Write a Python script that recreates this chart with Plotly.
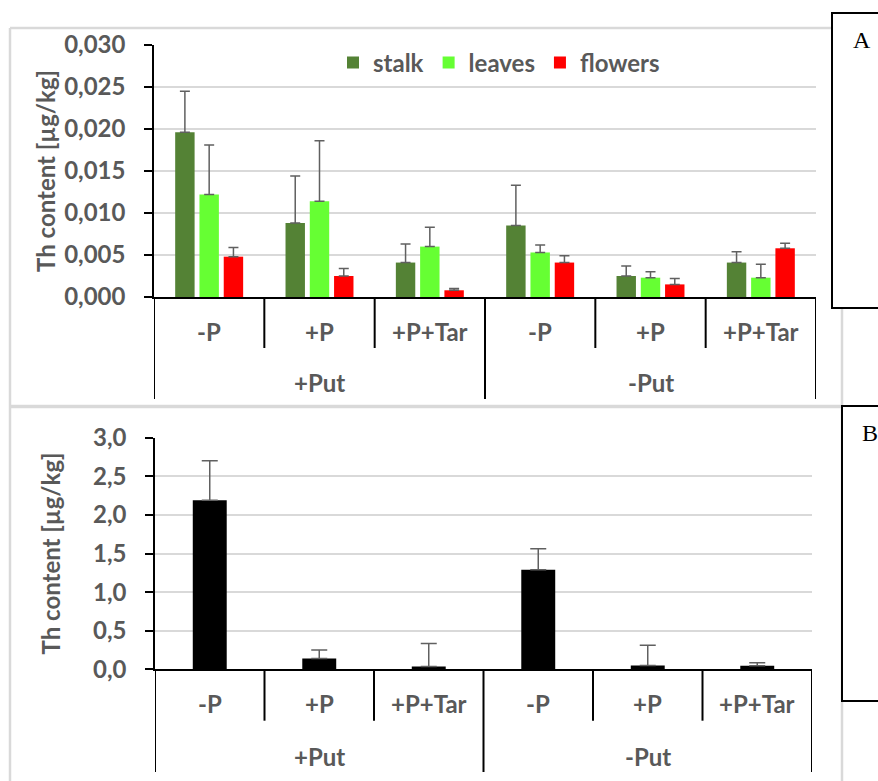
import plotly.graph_objects as go

# ---------------- data ----------------
subcats = ["-P", "+P", "+P+Tar", "-P", "+P", "+P+Tar"]
groups = ["+Put", "-Put"]
series_names = ["stalk", "leaves", "flowers"]
series_colors = ["#548235", "#66FF33", "#FF0000"]

stalk = [0.0196, 0.0088, 0.0041, 0.0085, 0.0025, 0.0041]
stalk_err = [0.0049, 0.0056, 0.0022, 0.0048, 0.0012, 0.0013]
leaves = [0.0122, 0.0114, 0.0060, 0.0053, 0.0023, 0.0023]
leaves_err = [0.0059, 0.0072, 0.0023, 0.0009, 0.0007, 0.0016]
flowers = [0.0048, 0.0025, 0.0008, 0.0041, 0.0015, 0.0058]
flowers_err = [0.0011, 0.0009, 0.0002, 0.0008, 0.0007, 0.0006]

total = [2.19, 0.14, 0.035, 1.29, 0.05, 0.045]
total_err = [0.51, 0.11, 0.30, 0.27, 0.26, 0.04]

y_title = "Th content [µg/kg]"

# ---------------- layout helpers ----------------
W, H = 878, 781
def px(p):
    return p / W
def py(p):
    return 1 - p / H

FONT = "Lato"
GRAY_TXT = "#595959"
FS = 24

xpos = list(range(len(subcats)))

fig = go.Figure()

for name, col, vals, errs in zip(series_names, series_colors,
                                 [stalk, leaves, flowers],
                                 [stalk_err, leaves_err, flowers_err]):
    fig.add_trace(go.Bar(
        x=xpos, y=vals, name=name, marker=dict(color=col, line=dict(width=0)),
        error_y=dict(type="data", symmetric=False, array=errs,
                     arrayminus=[0] * len(errs), color="#606060",
                     thickness=1.5, width=5),
        xaxis="x", yaxis="y"))

fig.add_trace(go.Bar(
    x=xpos, y=total, name="total", showlegend=False, width=0.31,
    marker=dict(color="#000000", line=dict(width=0)),
    error_y=dict(type="data", symmetric=False, array=total_err,
                 arrayminus=[0] * len(total_err), color="#606060",
                 thickness=1.5, width=8),
    xaxis="x2", yaxis="y2"))

# plot areas in pixels
A = dict(l=154, r=816, t=45, b=297)
B = dict(l=155, r=812, t=437.7, b=669.3)

yax_common = dict(
    showgrid=True, gridcolor="#D9D9D9", gridwidth=2,
    showline=True, linecolor="#000000", linewidth=1.5,
    ticks="outside", ticklen=8, tickcolor="#000000", tickwidth=1.5,
    zeroline=False, ticklabelstandoff=14, automargin=False,
    tickfont=dict(family=FONT, size=FS, color=GRAY_TXT, weight="bold"),
)
xax_common = dict(
    range=[-0.5, len(subcats) - 0.5], showgrid=False, zeroline=False,
    showline=True, linecolor="#000000", linewidth=2, showticklabels=False,
    ticks="", fixedrange=True, automargin=False,
)

fig.update_layout(
    width=W, height=H, autosize=False, margin=dict(l=0, r=0, t=0, b=0, pad=0),
    paper_bgcolor="white", plot_bgcolor="white",
    separators=",.",
    barmode="group", bargap=0.34, bargroupgap=0.2,
    xaxis=dict(domain=[px(A["l"]), px(A["r"])], anchor="y", **xax_common),
    yaxis=dict(domain=[py(A["b"]), py(A["t"])], anchor="x",
               range=[0, 0.030], dtick=0.005, tickformat=".3f", **yax_common),
    xaxis2=dict(domain=[px(B["l"]), px(B["r"])], anchor="y2", **xax_common),
    yaxis2=dict(domain=[py(B["b"]), py(B["t"])], anchor="x2",
                range=[0, 3.0], dtick=0.5, tickformat=".1f", **yax_common),
    legend=dict(orientation="h", x=px(499), xanchor="center", y=py(63),
                yanchor="middle", bgcolor="rgba(0,0,0,0)",
                font=dict(family=FONT, size=FS, color=GRAY_TXT, weight="bold"),
                itemwidth=30, tracegroupgap=0),
    showlegend=True,
)

shapes = []
annotations = []
BORDER = "#D9D9D9"

# outer light gray frames
shapes.append(dict(type="line", xref="paper", yref="paper", x0=px(10), x1=px(842),
                   y0=py(28), y1=py(28), line=dict(color=BORDER, width=2.5)))
shapes.append(dict(type="line", xref="paper", yref="paper", x0=px(10), x1=px(10),
                   y0=py(28), y1=py(781), line=dict(color=BORDER, width=2.5)))
shapes.append(dict(type="line", xref="paper", yref="paper", x0=px(10), x1=px(842),
                   y0=py(406.5), y1=py(406.5), line=dict(color=BORDER, width=3.5)))
shapes.append(dict(type="line", xref="paper", yref="paper", x0=px(842), x1=px(842),
                   y0=py(28), y1=py(781), line=dict(color=BORDER, width=2.5)))

# category dividers and labels for each panel
for xa, P, outer_bottom, inner_bottom, lab_y, grp_y in [
        ("x", A, 399, 348, 332, 383),
        ("x2", B, 772, 720.7, 703, 756)]:
    n = len(subcats)
    per = n // len(groups)
    for i in range(n + 1):
        outer = (i % per == 0)
        shapes.append(dict(type="line", xref=xa, yref="paper",
                           x0=i - 0.5, x1=i - 0.5,
                           y0=py(P["b"]), y1=py(outer_bottom if outer else inner_bottom),
                           line=dict(color="#000000", width=2)))
    for i, lab in enumerate(subcats):
        annotations.append(dict(xref=xa, yref="paper", x=i, y=py(lab_y),
                                text=lab, showarrow=False, xanchor="center",
                                yanchor="middle",
                                font=dict(family=FONT, size=FS, color=GRAY_TXT,
                                          weight="bold")))
    for g, gname in enumerate(groups):
        annotations.append(dict(xref=xa, yref="paper", x=g * per + (per - 1) / 2,
                                y=py(grp_y), text=gname, showarrow=False,
                                xanchor="center", yanchor="middle",
                                font=dict(family=FONT, size=FS, color=GRAY_TXT,
                                          weight="bold")))

# y-axis titles
for P, xc in [(A, 45), (B, 50)]:
    annotations.append(dict(xref="paper", yref="paper", x=px(xc),
                            y=py((P["t"] + P["b"]) / 2), text=y_title,
                            textangle=-90, showarrow=False, xanchor="center",
                            yanchor="middle",
                            font=dict(family=FONT, size=FS, color=GRAY_TXT,
                                      weight="bold")))

# panel letter boxes
for letter, x0, y0, y1, tx, ty in [("A", 832, 13, 308, 851, 40),
                                    ("B", 842, 406, 701, 860, 433)]:
    shapes.append(dict(type="rect", xref="paper", yref="paper",
                       x0=px(x0), x1=px(900), y0=py(y1), y1=py(y0),
                       fillcolor="white", line=dict(color="#000000", width=2),
                       layer="above"))
    annotations.append(dict(xref="paper", yref="paper", x=px(tx), y=py(ty),
                            text=letter, showarrow=False, xanchor="left",
                            yanchor="middle",
                            font=dict(family="Liberation Serif", size=24,
                                      color="#000000")))

fig.update_layout(shapes=shapes, annotations=annotations)

fig.write_html("out.html",
               config={"displayModeBar": False},
               post_script="document.body.style.margin='0';"
                           "document.body.style.overflow='hidden';")
